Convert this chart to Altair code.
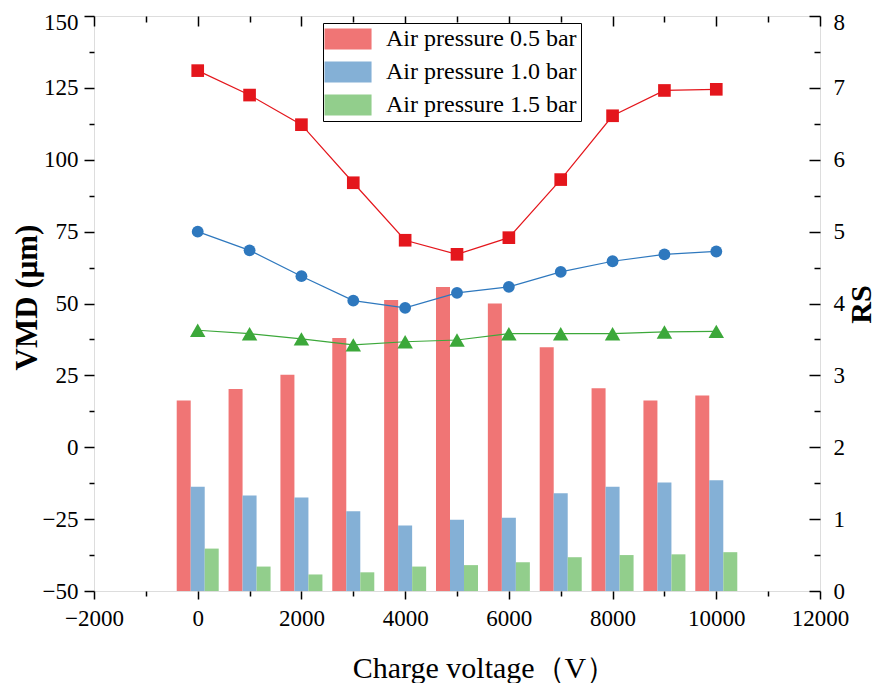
import altair as alt
import pandas as pd

# ---------------- data ----------------
voltage = [0, 1000, 2000, 3000, 4000, 5000, 6000, 7000, 8000, 9000, 10000]
series = ["Air pressure 0.5 bar", "Air pressure 1.0 bar", "Air pressure 1.5 bar"]

# VMD (left axis, lines with markers)
vmd_05 = [131.0, 122.5, 112.2, 92.0, 72.0, 67.1, 72.9, 93.1, 115.3, 124.1, 124.5]
vmd_10 = [75.0, 68.5, 59.5, 51.0, 48.5, 53.7, 55.8, 61.0, 64.7, 67.1, 68.1]
vmd_15 = [40.7, 39.5, 37.7, 35.6, 36.7, 37.3, 39.5, 39.5, 39.5, 40.1, 40.3]

# RS (right axis, bars)
rs_05 = [2.65, 2.81, 3.01, 3.52, 4.05, 4.23, 4.00, 3.39, 2.82, 2.65, 2.72]
rs_10 = [1.45, 1.33, 1.30, 1.11, 0.91, 0.99, 1.02, 1.36, 1.45, 1.51, 1.54]
rs_15 = [0.59, 0.34, 0.23, 0.26, 0.34, 0.36, 0.40, 0.47, 0.50, 0.51, 0.54]

# tick values
x_major = list(range(-2000, 12001, 2000))
x_minor = list(range(-1000, 12000, 2000))
vmd_major = list(range(-50, 126, 25))
vmd_top = [150]
vmd_minor = [v + 12.5 for v in range(-50, 150, 25)]
rs_major = list(range(0, 8))
rs_top = [8]
rs_all = list(range(0, 9))
rs_minor = [v + 0.5 for v in range(0, 8)]

# ---------------- styles ----------------
bar_colors = ["#F07575", "#84B0D6", "#92CE8C"]
line_colors = ["#E4161C", "#2E78BE", "#3CA83A"]
marker_shapes = ["square", "circle", "triangle-up"]
marker_sizes = [160, 140, 240]
bar_shift = [-270, 0, 270]
bar_half = 135

FONT = "Liberation Serif"
W, H = 726, 575

# ---------------- tables ----------------
bar_rows = []
for s, vals, sh in zip(series, [rs_05, rs_10, rs_15], bar_shift):
    for v, r in zip(voltage, vals):
        bar_rows.append({"voltage": v, "series": s, "rs": r, "shift": sh})
bar_df = pd.DataFrame(bar_rows)

line_rows = []
for s, vals in zip(series, [vmd_05, vmd_10, vmd_15]):
    for v, m in zip(voltage, vals):
        line_rows.append({"voltage": v, "pressure": s, "vmd": m})
line_df = pd.DataFrame(line_rows)

x_scale = alt.Scale(domain=[-2000, 12000], nice=False, zero=False)
vmd_scale = alt.Scale(domain=[-50, 150], nice=False, zero=False)
rs_scale = alt.Scale(domain=[0, 8], nice=False)

AX = dict(grid=False, domain=False, tickColor="black", tickWidth=1.5,
          labelColor="black", labelFont=FONT, labelFontSize=23)

x_main = alt.Axis(orient="bottom", values=x_major, format="d", tickSize=8,
                  labelPadding=8, labelFlush=False,
                  title="Charge voltage（V）", titleFont=FONT, titleFontSize=30,
                  titleFontWeight="normal", titleColor="black",
                  titleX=390, titleY=77, titleAlign="center",
                  titleBaseline="middle", **AX)
x_minor_ax = alt.Axis(orient="bottom", values=x_minor, tickSize=5,
                      labels=False, title=None, **AX)
x_top_major = alt.Axis(orient="bottom", offset=-H, values=x_major, tickSize=10,
                       labels=False, title=None, **AX)
x_top_minor = alt.Axis(orient="bottom", offset=-H, values=x_minor, tickSize=6,
                       labels=False, title=None, **AX)

vmd_main = alt.Axis(orient="left", values=vmd_major, tickSize=10, labelPadding=6,
                    title="VMD (μm)", titleFont=FONT, titleFontSize=31,
                    titleFontWeight="bold", titleColor="black", titleAngle=270,
                    titleX=-67, titleY=281, titleAlign="center",
                    titleBaseline="middle", **AX)
vmd_top_ax = alt.Axis(orient="left", values=vmd_top, tickSize=10, labelPadding=6,
                      labelFlush=True, labelFlushOffset=5, title=None, **AX)
vmd_minor_ax = alt.Axis(orient="left", values=vmd_minor, tickSize=5,
                        labels=False, title=None, **AX)

rs_main = alt.Axis(orient="right", values=rs_major, tickSize=0, labelPadding=13,
                   title="RS", titleFont=FONT, titleFontSize=30,
                   titleFontWeight="bold", titleColor="black", titleAngle=270,
                   titleX=41, titleY=288, titleAlign="center",
                   titleBaseline="middle", **AX)
rs_top_ax = alt.Axis(orient="right", values=rs_top, tickSize=0, labelPadding=13,
                     labelFlush=True, labelFlushOffset=5, title=None, **AX)
rs_in_major = alt.Axis(orient="left", offset=-W, values=rs_all, tickSize=11,
                       labels=False, title=None, **AX)
rs_in_minor = alt.Axis(orient="left", offset=-W, values=rs_minor, tickSize=6,
                       labels=False, title=None, **AX)

legend = alt.Legend(
    orient="none", legendX=229, legendY=7, direction="vertical", title=None,
    symbolType="M-1.38,-1H3.1V1H-1.38Z", symbolSize=441, symbolStrokeWidth=0,
    symbolOpacity=1, labelFont=FONT, labelFontSize=24, labelColor="black",
    labelOffset=35, labelLimit=400, labelBaseline="middle",
    padding=4, rowPadding=9, strokeColor="black", fillColor="white",
)

bars = alt.Chart(bar_df).transform_calculate(
    x0=f"datum.voltage + datum.shift - {bar_half}",
    x1=f"datum.voltage + datum.shift + {bar_half}",
).mark_bar(opacity=1).encode(
    x=alt.X("x0:Q", scale=x_scale, axis=x_main),
    x2="x1:Q",
    y=alt.Y("rs:Q", scale=rs_scale, axis=rs_main),
    y2=alt.datum(0),
    color=alt.Color("series:N", scale=alt.Scale(domain=series, range=bar_colors),
                    legend=legend),
)

lines = alt.Chart(line_df).mark_line(strokeWidth=1.2).encode(
    x=alt.X("voltage:Q", scale=x_scale, axis=x_minor_ax),
    y=alt.Y("vmd:Q", scale=vmd_scale, axis=vmd_main),
    stroke=alt.Stroke("pressure:N", scale=alt.Scale(domain=series, range=line_colors),
                      legend=None),
)

points = alt.Chart(line_df).mark_point(filled=True, opacity=1).encode(
    x=alt.X("voltage:Q", scale=x_scale, axis=x_top_major),
    y=alt.Y("vmd:Q", scale=vmd_scale, axis=vmd_minor_ax),
    fill=alt.Fill("pressure:N", scale=alt.Scale(domain=series, range=line_colors),
                  legend=None),
    shape=alt.Shape("pressure:N", scale=alt.Scale(domain=series, range=marker_shapes),
                    legend=None),
    size=alt.Size("pressure:N",
                  scale=alt.Scale(type="ordinal", domain=series, range=marker_sizes),
                  legend=None),
)

ghost_a = alt.Chart(bar_df).mark_point(opacity=0).encode(
    x=alt.X("voltage:Q", scale=x_scale, axis=x_top_minor),
    y=alt.Y("rs:Q", scale=rs_scale, axis=rs_in_major),
)
ghost_b = alt.Chart(bar_df).mark_point(opacity=0).encode(
    x=alt.X("voltage:Q", scale=x_scale, axis=None),
    y=alt.Y("rs:Q", scale=rs_scale, axis=rs_in_minor),
)
ghost_c = alt.Chart(line_df).mark_point(opacity=0).encode(
    x=alt.X("voltage:Q", scale=x_scale, axis=None),
    y=alt.Y("vmd:Q", scale=vmd_scale, axis=vmd_top_ax),
)
ghost_d = alt.Chart(bar_df).mark_point(opacity=0).encode(
    x=alt.X("voltage:Q", scale=x_scale, axis=None),
    y=alt.Y("rs:Q", scale=rs_scale, axis=rs_top_ax),
)

chart = alt.layer(bars, lines, points, ghost_a, ghost_b, ghost_c, ghost_d).resolve_scale(
    y="independent"
).resolve_axis(
    x="independent", y="independent"
).resolve_legend(
    color="independent", fill="independent", stroke="independent",
    shape="independent", size="independent"
).properties(
    width=W, height=H, autosize="none",
    padding={"left": 86, "top": 8, "right": 58, "bottom": 92},
).configure_view(
    stroke="black", strokeWidth=1.5
).configure(background="white")

chart.save("out.html", embed_options={"renderer": "svg", "actions": False})
